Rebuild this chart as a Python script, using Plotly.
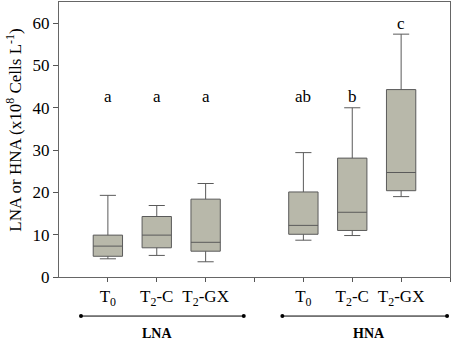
import plotly.graph_objects as go

positions = [1, 2, 3, 5, 6, 7]
tick_vals = [1, 2, 3, 4, 5, 6, 7, 8]
tick_text = ["T<sub>0</sub>", "T<sub>2</sub>-C", "T<sub>2</sub>-GX", "",
             "T<sub>0</sub>", "T<sub>2</sub>-C", "T<sub>2</sub>-GX", ""]
lower = [4.3, 5.1, 3.6, 8.7, 9.8, 19.0]
q1 = [4.9, 6.9, 6.1, 10.1, 11.0, 20.4]
median = [7.3, 9.9, 8.2, 12.2, 15.3, 24.7]
q3 = [9.9, 14.3, 18.4, 20.1, 28.1, 44.3]
upper = [19.3, 16.9, 22.1, 29.4, 40.0, 57.4]
letters = ["a", "a", "a", "ab", "b", "c"]
letter_y = [42.6, 42.6, 42.6, 42.6, 42.6, 60.0]
groups = ["LNA", "HNA"]
group_span = [(0.45, 3.78), (4.57, 7.94)]
group_label_x = [2.0, 6.35]
y_title = "LNA or HNA (x10<sup>8</sup> Cells L<sup>-1</sup>)"

font = "Liberation Serif, Times New Roman, serif"
line_y = -0.142

fig = go.Figure()
fig.add_trace(go.Box(
    x=positions, q1=q1, median=median, q3=q3,
    lowerfence=lower, upperfence=upper,
    width=0.6, whiskerwidth=0.55,
    fillcolor="#b8b8aa", line=dict(color="#5a5a5a", width=1),
    showlegend=False, hoverinfo="skip", boxpoints=False,
))

for xp, t, yv in zip(positions, letters, letter_y):
    fig.add_annotation(x=xp, y=yv, text=t, showarrow=False,
                       font=dict(family=font, size=17, color="black"),
                       xref="x", yref="y", yanchor="middle")

for g, (a, b), lx in zip(groups, group_span, group_label_x):
    fig.add_shape(type="line", x0=a, x1=b, y0=line_y, y1=line_y,
                  xref="x", yref="paper", line=dict(color="black", width=1))
    for xe in (a, b):
        fig.add_shape(type="circle", xref="x", yref="paper",
                      xsizemode="pixel", ysizemode="pixel",
                      xanchor=xe, yanchor=line_y,
                      x0=-2, x1=2, y0=-2, y1=2,
                      fillcolor="black", line=dict(color="black", width=0))
    fig.add_annotation(x=lx, y=-0.207, text="<b>" + g + "</b>",
                       showarrow=False, xref="x", yref="paper",
                       xanchor="center", yanchor="middle",
                       font=dict(family=font, size=14, color="black"))

fig.add_annotation(x=-0.115, y=0.532, xref="paper", yref="paper",
                   text=y_title, textangle=-90, showarrow=False,
                   xanchor="center", yanchor="middle",
                   font=dict(family=font, size=17, color="black"))

fig.update_layout(
    width=454, height=342,
    margin=dict(l=59, r=4, t=2, b=65),
    paper_bgcolor="white", plot_bgcolor="white",
    font=dict(family=font, size=17, color="black"),
    xaxis=dict(range=[0, 8], tickvals=tick_vals, ticktext=tick_text,
               ticks="outside", ticklen=4, tickcolor="#555",
               showline=True, linecolor="#666", linewidth=1, mirror=True,
               showgrid=False, zeroline=False, automargin=False,
               tickfont=dict(family=font, size=17)),
    yaxis=dict(range=[0, 65], tickvals=[0, 10, 20, 30, 40, 50, 60],
               ticks="outside", ticklen=5, tickcolor="#555",
               showline=True, linecolor="#666", linewidth=1, mirror=True,
               showgrid=False, zeroline=False, automargin=False,
               tickfont=dict(family=font, size=17)),
)

fig.write_html("out.html",
               config={"displayModeBar": False},
               post_script="document.body.style.margin='0';document.body.style.overflow='hidden';")
